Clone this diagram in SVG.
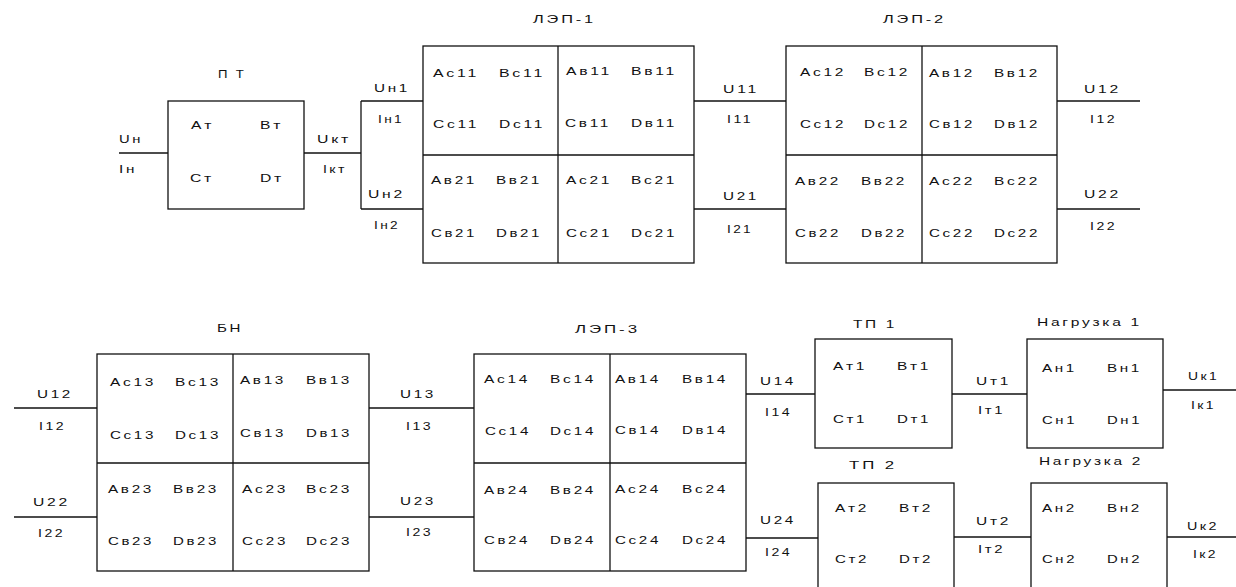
<svg xmlns="http://www.w3.org/2000/svg" width="1236" height="587" viewBox="0 0 1236 587">
  <style>
    .bx { fill: #fff; stroke: #111; stroke-width: 1.3; }
    .dv { stroke: #111; stroke-width: 1.3; fill: none; }
    .ln { stroke: #111; stroke-width: 1.3; fill: none; }
    text { font-family: "Liberation Sans", Arial, sans-serif; font-size: 11.5px; fill: #111; letter-spacing: 2px; }
  </style>
  <rect width="1236" height="587" fill="#fff"/>

  <!-- connecting wires -->
  <g id="connectors">
    <line class="ln" x1="119" y1="153" x2="168" y2="153"/>
    <line class="ln" x1="304" y1="153" x2="361" y2="153"/>
    <line class="ln" x1="361" y1="101" x2="361" y2="209"/>
    <line class="ln" x1="361" y1="101" x2="423" y2="101"/>
    <line class="ln" x1="361" y1="209" x2="423" y2="209"/>
    <line class="ln" x1="694" y1="101" x2="786" y2="101"/>
    <line class="ln" x1="694" y1="209" x2="786" y2="209"/>
    <line class="ln" x1="1057" y1="101" x2="1140" y2="101"/>
    <line class="ln" x1="1057" y1="209" x2="1140" y2="209"/>
    <line class="ln" x1="14" y1="408" x2="97" y2="408"/>
    <line class="ln" x1="14" y1="517" x2="97" y2="517"/>
    <line class="ln" x1="369" y1="408" x2="474" y2="408"/>
    <line class="ln" x1="369" y1="517" x2="474" y2="517"/>
    <line class="ln" x1="746" y1="394" x2="815" y2="394"/>
    <line class="ln" x1="746" y1="538" x2="818" y2="538"/>
    <line class="ln" x1="952" y1="394" x2="1027" y2="394"/>
    <line class="ln" x1="954" y1="537" x2="1031" y2="537"/>
    <line class="ln" x1="1163" y1="390" x2="1236" y2="390"/>
    <line class="ln" x1="1167" y1="537" x2="1236" y2="537"/>
  </g>

  <!-- wire labels -->
  <g id="wire-labels">
    <text x="119" y="143" textLength="24" lengthAdjust="spacingAndGlyphs">Uн</text>
    <text x="119" y="173" textLength="18" lengthAdjust="spacingAndGlyphs">Iн</text>
    <text x="317" y="143" textLength="34" lengthAdjust="spacingAndGlyphs">Uкт</text>
    <text x="323" y="173" textLength="24" lengthAdjust="spacingAndGlyphs">Iкт</text>
    <text x="374" y="92" textLength="36" lengthAdjust="spacingAndGlyphs">Uн1</text>
    <text x="378" y="123" textLength="26" lengthAdjust="spacingAndGlyphs">Iн1</text>
    <text x="368" y="198" textLength="37" lengthAdjust="spacingAndGlyphs">Uн2</text>
    <text x="374" y="229" textLength="26" lengthAdjust="spacingAndGlyphs">Iн2</text>
    <text x="723" y="93" textLength="36" lengthAdjust="spacingAndGlyphs">U11</text>
    <text x="727" y="123" textLength="26" lengthAdjust="spacingAndGlyphs">I11</text>
    <text x="723" y="200" textLength="36" lengthAdjust="spacingAndGlyphs">U21</text>
    <text x="727" y="233" textLength="26" lengthAdjust="spacingAndGlyphs">I21</text>
    <text x="1084" y="93" textLength="37" lengthAdjust="spacingAndGlyphs">U12</text>
    <text x="1090" y="123" textLength="27" lengthAdjust="spacingAndGlyphs">I12</text>
    <text x="1084" y="198" textLength="37" lengthAdjust="spacingAndGlyphs">U22</text>
    <text x="1090" y="230" textLength="27" lengthAdjust="spacingAndGlyphs">I22</text>
    <text x="37" y="398" textLength="36" lengthAdjust="spacingAndGlyphs">U12</text>
    <text x="39" y="430" textLength="27" lengthAdjust="spacingAndGlyphs">I12</text>
    <text x="33" y="506" textLength="37" lengthAdjust="spacingAndGlyphs">U22</text>
    <text x="38" y="537" textLength="27" lengthAdjust="spacingAndGlyphs">I22</text>
    <text x="400" y="398" textLength="36" lengthAdjust="spacingAndGlyphs">U13</text>
    <text x="406" y="430" textLength="27" lengthAdjust="spacingAndGlyphs">I13</text>
    <text x="400" y="505" textLength="36" lengthAdjust="spacingAndGlyphs">U23</text>
    <text x="406" y="536" textLength="27" lengthAdjust="spacingAndGlyphs">I23</text>
    <text x="760" y="385" textLength="36" lengthAdjust="spacingAndGlyphs">U14</text>
    <text x="765" y="416" textLength="27" lengthAdjust="spacingAndGlyphs">I14</text>
    <text x="760" y="524" textLength="36" lengthAdjust="spacingAndGlyphs">U24</text>
    <text x="765" y="556" textLength="27" lengthAdjust="spacingAndGlyphs">I24</text>
    <text x="976" y="385" textLength="35" lengthAdjust="spacingAndGlyphs">Uт1</text>
    <text x="978" y="414" textLength="27" lengthAdjust="spacingAndGlyphs">Iт1</text>
    <text x="976" y="525" textLength="35" lengthAdjust="spacingAndGlyphs">Uт2</text>
    <text x="978" y="553" textLength="27" lengthAdjust="spacingAndGlyphs">Iт2</text>
    <text x="1188" y="380" textLength="31" lengthAdjust="spacingAndGlyphs">Uк1</text>
    <text x="1191" y="409" textLength="25" lengthAdjust="spacingAndGlyphs">Iк1</text>
    <text x="1187" y="530" textLength="32" lengthAdjust="spacingAndGlyphs">Uк2</text>
    <text x="1193" y="558" textLength="25" lengthAdjust="spacingAndGlyphs">Iк2</text>
  </g>

  <!-- ПТ -->
  <g id="node-pt">
    <text x="218" y="78" textLength="28" lengthAdjust="spacingAndGlyphs">П Т</text>
    <rect class="bx" x="168" y="101" width="136" height="108"/>
    <text x="191" y="129" textLength="23" lengthAdjust="spacingAndGlyphs">Aт</text>
    <text x="260" y="129" textLength="23" lengthAdjust="spacingAndGlyphs">Bт</text>
    <text x="190" y="182" textLength="24" lengthAdjust="spacingAndGlyphs">Cт</text>
    <text x="260" y="182" textLength="24" lengthAdjust="spacingAndGlyphs">Dт</text>
  </g>

  <!-- ЛЭП-1 -->
  <g id="node-lep1">
    <text x="533" y="23" textLength="63" lengthAdjust="spacingAndGlyphs">ЛЭП-1</text>
    <rect class="bx" x="423" y="46" width="271" height="217"/>
    <line class="dv" x1="558" y1="46" x2="558" y2="263"/>
    <line class="dv" x1="423" y1="155" x2="694" y2="155"/>
    <text x="433" y="77" textLength="46" lengthAdjust="spacingAndGlyphs">Aс11</text>
    <text x="499" y="77" textLength="46" lengthAdjust="spacingAndGlyphs">Bс11</text>
    <text x="566" y="75" textLength="46" lengthAdjust="spacingAndGlyphs">Aв11</text>
    <text x="631" y="75" textLength="46" lengthAdjust="spacingAndGlyphs">Bв11</text>
    <text x="433" y="128" textLength="46" lengthAdjust="spacingAndGlyphs">Cс11</text>
    <text x="499" y="128" textLength="46" lengthAdjust="spacingAndGlyphs">Dс11</text>
    <text x="565" y="127" textLength="46" lengthAdjust="spacingAndGlyphs">Cв11</text>
    <text x="631" y="127" textLength="46" lengthAdjust="spacingAndGlyphs">Dв11</text>
    <text x="431" y="184" textLength="46" lengthAdjust="spacingAndGlyphs">Aв21</text>
    <text x="496" y="184" textLength="46" lengthAdjust="spacingAndGlyphs">Bв21</text>
    <text x="566" y="184" textLength="46" lengthAdjust="spacingAndGlyphs">Aс21</text>
    <text x="631" y="184" textLength="46" lengthAdjust="spacingAndGlyphs">Bс21</text>
    <text x="431" y="237" textLength="46" lengthAdjust="spacingAndGlyphs">Cв21</text>
    <text x="496" y="237" textLength="46" lengthAdjust="spacingAndGlyphs">Dв21</text>
    <text x="566" y="237" textLength="46" lengthAdjust="spacingAndGlyphs">Cс21</text>
    <text x="631" y="237" textLength="46" lengthAdjust="spacingAndGlyphs">Dс21</text>
  </g>

  <!-- ЛЭП-2 -->
  <g id="node-lep2">
    <text x="883" y="23" textLength="63" lengthAdjust="spacingAndGlyphs">ЛЭП-2</text>
    <rect class="bx" x="786" y="46" width="271" height="217"/>
    <line class="dv" x1="922" y1="46" x2="922" y2="263"/>
    <line class="dv" x1="786" y1="155" x2="1057" y2="155"/>
    <text x="800" y="76" textLength="46" lengthAdjust="spacingAndGlyphs">Aс12</text>
    <text x="864" y="76" textLength="46" lengthAdjust="spacingAndGlyphs">Bс12</text>
    <text x="929" y="77" textLength="46" lengthAdjust="spacingAndGlyphs">Aв12</text>
    <text x="994" y="77" textLength="46" lengthAdjust="spacingAndGlyphs">Bв12</text>
    <text x="800" y="128" textLength="46" lengthAdjust="spacingAndGlyphs">Cс12</text>
    <text x="864" y="128" textLength="46" lengthAdjust="spacingAndGlyphs">Dс12</text>
    <text x="929" y="128" textLength="46" lengthAdjust="spacingAndGlyphs">Cв12</text>
    <text x="994" y="128" textLength="46" lengthAdjust="spacingAndGlyphs">Dв12</text>
    <text x="795" y="185" textLength="46" lengthAdjust="spacingAndGlyphs">Aв22</text>
    <text x="861" y="185" textLength="46" lengthAdjust="spacingAndGlyphs">Bв22</text>
    <text x="929" y="185" textLength="46" lengthAdjust="spacingAndGlyphs">Aс22</text>
    <text x="994" y="185" textLength="46" lengthAdjust="spacingAndGlyphs">Bс22</text>
    <text x="795" y="237" textLength="46" lengthAdjust="spacingAndGlyphs">Cв22</text>
    <text x="861" y="237" textLength="46" lengthAdjust="spacingAndGlyphs">Dв22</text>
    <text x="929" y="237" textLength="46" lengthAdjust="spacingAndGlyphs">Cс22</text>
    <text x="994" y="237" textLength="46" lengthAdjust="spacingAndGlyphs">Dс22</text>
  </g>

  <!-- БН -->
  <g id="node-bn">
    <text x="217" y="332" textLength="26" lengthAdjust="spacingAndGlyphs">БН</text>
    <rect class="bx" x="97" y="354" width="272" height="217"/>
    <line class="dv" x1="233" y1="354" x2="233" y2="571"/>
    <line class="dv" x1="97" y1="463" x2="369" y2="463"/>
    <text x="110" y="386" textLength="46" lengthAdjust="spacingAndGlyphs">Aс13</text>
    <text x="175" y="386" textLength="46" lengthAdjust="spacingAndGlyphs">Bс13</text>
    <text x="240" y="384" textLength="46" lengthAdjust="spacingAndGlyphs">Aв13</text>
    <text x="306" y="384" textLength="46" lengthAdjust="spacingAndGlyphs">Bв13</text>
    <text x="110" y="439" textLength="46" lengthAdjust="spacingAndGlyphs">Cс13</text>
    <text x="175" y="439" textLength="46" lengthAdjust="spacingAndGlyphs">Dс13</text>
    <text x="240" y="437" textLength="46" lengthAdjust="spacingAndGlyphs">Cв13</text>
    <text x="306" y="437" textLength="46" lengthAdjust="spacingAndGlyphs">Dв13</text>
    <text x="108" y="493" textLength="46" lengthAdjust="spacingAndGlyphs">Aв23</text>
    <text x="173" y="493" textLength="46" lengthAdjust="spacingAndGlyphs">Bв23</text>
    <text x="242" y="493" textLength="46" lengthAdjust="spacingAndGlyphs">Aс23</text>
    <text x="306" y="493" textLength="46" lengthAdjust="spacingAndGlyphs">Bс23</text>
    <text x="108" y="545" textLength="46" lengthAdjust="spacingAndGlyphs">Cв23</text>
    <text x="173" y="545" textLength="46" lengthAdjust="spacingAndGlyphs">Dв23</text>
    <text x="242" y="545" textLength="46" lengthAdjust="spacingAndGlyphs">Cс23</text>
    <text x="306" y="545" textLength="46" lengthAdjust="spacingAndGlyphs">Dс23</text>
  </g>

  <!-- ЛЭП-3 -->
  <g id="node-lep3">
    <text x="575" y="333" textLength="65" lengthAdjust="spacingAndGlyphs">ЛЭП-3</text>
    <rect class="bx" x="474" y="354" width="272" height="217"/>
    <line class="dv" x1="610" y1="354" x2="610" y2="571"/>
    <line class="dv" x1="474" y1="463" x2="746" y2="463"/>
    <text x="484" y="383" textLength="46" lengthAdjust="spacingAndGlyphs">Aс14</text>
    <text x="550" y="383" textLength="46" lengthAdjust="spacingAndGlyphs">Bс14</text>
    <text x="615" y="383" textLength="46" lengthAdjust="spacingAndGlyphs">Aв14</text>
    <text x="682" y="383" textLength="46" lengthAdjust="spacingAndGlyphs">Bв14</text>
    <text x="485" y="435" textLength="46" lengthAdjust="spacingAndGlyphs">Cс14</text>
    <text x="550" y="435" textLength="46" lengthAdjust="spacingAndGlyphs">Dс14</text>
    <text x="615" y="434" textLength="46" lengthAdjust="spacingAndGlyphs">Cв14</text>
    <text x="682" y="434" textLength="46" lengthAdjust="spacingAndGlyphs">Dв14</text>
    <text x="484" y="494" textLength="46" lengthAdjust="spacingAndGlyphs">Aв24</text>
    <text x="550" y="494" textLength="46" lengthAdjust="spacingAndGlyphs">Bв24</text>
    <text x="615" y="493" textLength="46" lengthAdjust="spacingAndGlyphs">Aс24</text>
    <text x="682" y="493" textLength="46" lengthAdjust="spacingAndGlyphs">Bс24</text>
    <text x="484" y="544" textLength="46" lengthAdjust="spacingAndGlyphs">Cв24</text>
    <text x="550" y="544" textLength="46" lengthAdjust="spacingAndGlyphs">Dв24</text>
    <text x="615" y="544" textLength="46" lengthAdjust="spacingAndGlyphs">Cс24</text>
    <text x="682" y="544" textLength="46" lengthAdjust="spacingAndGlyphs">Dс24</text>
  </g>

  <!-- ТП 1 -->
  <g id="node-tp1">
    <text x="853" y="328" textLength="44" lengthAdjust="spacingAndGlyphs">ТП 1</text>
    <rect class="bx" x="815" y="339" width="137" height="109"/>
    <text x="833" y="370" textLength="34" lengthAdjust="spacingAndGlyphs">Aт1</text>
    <text x="897" y="370" textLength="34" lengthAdjust="spacingAndGlyphs">Bт1</text>
    <text x="833" y="423" textLength="34" lengthAdjust="spacingAndGlyphs">Cт1</text>
    <text x="897" y="423" textLength="34" lengthAdjust="spacingAndGlyphs">Dт1</text>
  </g>

  <!-- Нагрузка 1 -->
  <g id="node-load1">
    <text x="1037" y="326" textLength="105" lengthAdjust="spacingAndGlyphs">Нагрузка 1</text>
    <rect class="bx" x="1027" y="339" width="136" height="109"/>
    <text x="1042" y="372" textLength="35" lengthAdjust="spacingAndGlyphs">Aн1</text>
    <text x="1107" y="372" textLength="35" lengthAdjust="spacingAndGlyphs">Bн1</text>
    <text x="1042" y="424" textLength="35" lengthAdjust="spacingAndGlyphs">Cн1</text>
    <text x="1107" y="424" textLength="35" lengthAdjust="spacingAndGlyphs">Dн1</text>
  </g>

  <!-- ТП 2 -->
  <g id="node-tp2">
    <text x="849" y="469" textLength="48" lengthAdjust="spacingAndGlyphs">ТП 2</text>
    <rect class="bx" x="818" y="483" width="136" height="120"/>
    <text x="835" y="512" textLength="34" lengthAdjust="spacingAndGlyphs">Aт2</text>
    <text x="899" y="512" textLength="34" lengthAdjust="spacingAndGlyphs">Bт2</text>
    <text x="835" y="563" textLength="34" lengthAdjust="spacingAndGlyphs">Cт2</text>
    <text x="899" y="563" textLength="34" lengthAdjust="spacingAndGlyphs">Dт2</text>
  </g>

  <!-- Нагрузка 2 -->
  <g id="node-load2">
    <text x="1039" y="465" textLength="104" lengthAdjust="spacingAndGlyphs">Нагрузка 2</text>
    <rect class="bx" x="1031" y="483" width="136" height="120"/>
    <text x="1042" y="512" textLength="35" lengthAdjust="spacingAndGlyphs">Aн2</text>
    <text x="1107" y="512" textLength="35" lengthAdjust="spacingAndGlyphs">Bн2</text>
    <text x="1042" y="563" textLength="35" lengthAdjust="spacingAndGlyphs">Cн2</text>
    <text x="1107" y="563" textLength="35" lengthAdjust="spacingAndGlyphs">Dн2</text>
  </g>
</svg>
